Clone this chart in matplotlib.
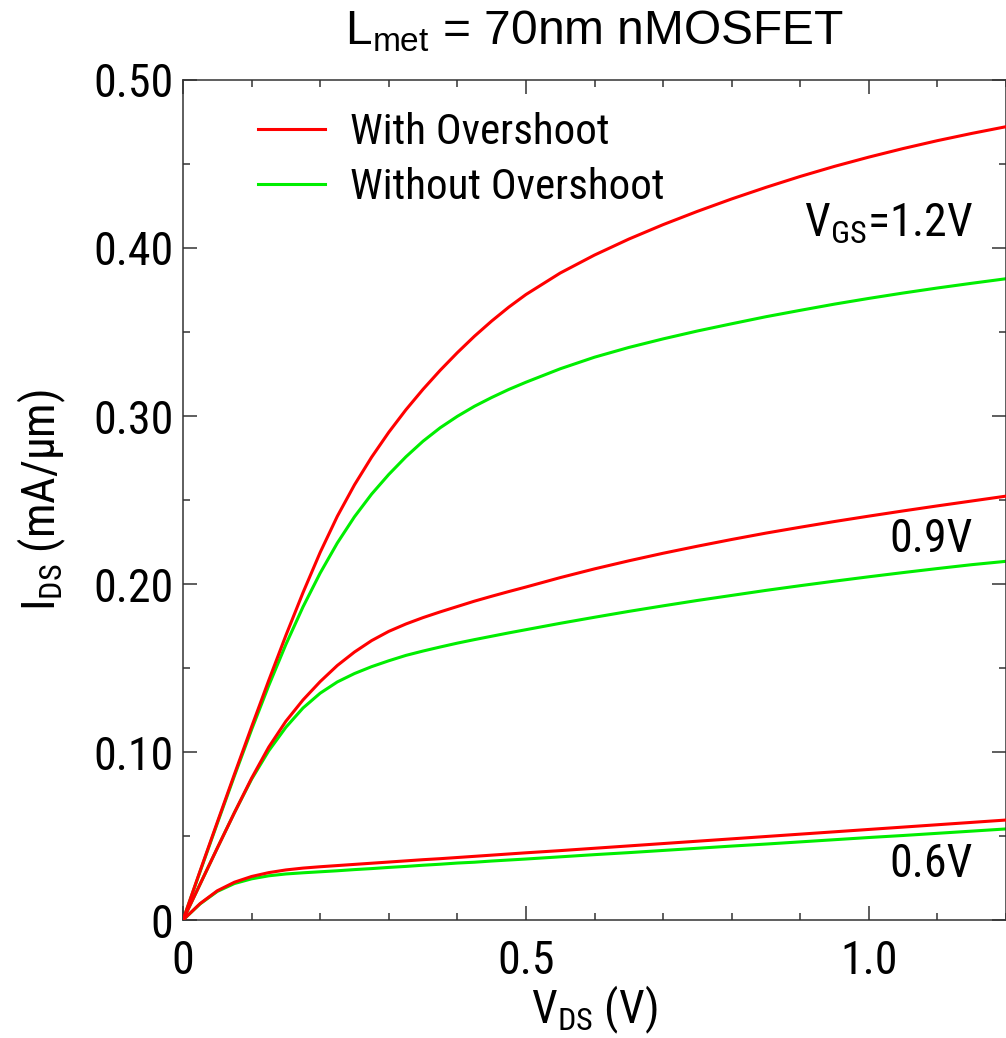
import os
import matplotlib
matplotlib.use("Agg")
import matplotlib.pyplot as plt
from matplotlib import font_manager
from matplotlib.ticker import MultipleLocator

# ---------------- data ----------------
vds = [0, 0.025, 0.05, 0.075, 0.1, 0.125, 0.15, 0.175, 0.2, 0.225, 0.25, 0.275,
       0.3, 0.325, 0.35, 0.375, 0.4, 0.425, 0.45, 0.475, 0.5, 0.55, 0.6, 0.65,
       0.7, 0.75, 0.8, 0.85, 0.9, 0.95, 1.0, 1.05, 1.1, 1.15, 1.2]

ids_12_with = [0, 0.0293, 0.0582, 0.0868, 0.1150, 0.1426, 0.1694, 0.1949, 0.2188,
               0.2403, 0.2590, 0.2755, 0.2903, 0.3037, 0.3159, 0.3272, 0.3377,
               0.3475, 0.3565, 0.3648, 0.3723, 0.3851, 0.3958, 0.4053, 0.4139,
               0.4218, 0.4292, 0.4361, 0.4426, 0.4486, 0.4541, 0.4592, 0.4639,
               0.4682, 0.4722]
ids_12_without = [0, 0.0289, 0.0575, 0.0858, 0.1133, 0.1395, 0.1640, 0.1864, 0.2065,
                  0.2244, 0.2400, 0.2535, 0.2652, 0.2757, 0.2850, 0.2930, 0.2998,
                  0.3058, 0.3110, 0.3158, 0.3201, 0.3281, 0.3350, 0.3408, 0.3459,
                  0.3506, 0.3549, 0.3591, 0.3629, 0.3666, 0.3700, 0.3732, 0.3762,
                  0.3790, 0.3817]
ids_09_with = [0, 0.0214, 0.0428, 0.0639, 0.0844, 0.1029, 0.1183, 0.1310, 0.1419,
               0.1515, 0.1595, 0.1663, 0.1718, 0.1762, 0.1800, 0.1834, 0.1866,
               0.1898, 0.1927, 0.1955, 0.1982, 0.2038, 0.2090, 0.2138, 0.2183,
               0.2225, 0.2265, 0.2303, 0.2338, 0.2372, 0.2404, 0.2435, 0.2465,
               0.2494, 0.2523]
ids_09_without = [0, 0.0214, 0.0428, 0.0639, 0.0838, 0.1007, 0.1147, 0.1262, 0.1350,
                  0.1417, 0.1467, 0.1508, 0.1543, 0.1575, 0.1601, 0.1625, 0.1648,
                  0.1669, 0.1689, 0.1709, 0.1728, 0.1766, 0.1802, 0.1837, 0.1870,
                  0.1902, 0.1932, 0.1962, 0.1990, 0.2017, 0.2043, 0.2068, 0.2092,
                  0.2115, 0.2135]
ids_06_with = [0, 0.0098, 0.0174, 0.0225, 0.0259, 0.0282, 0.0298, 0.0309, 0.0317,
               0.0324, 0.0331, 0.0338, 0.0345, 0.0352, 0.0359, 0.0365, 0.0372,
               0.0379, 0.0386, 0.0393, 0.0400, 0.0413, 0.0427, 0.0441, 0.0455,
               0.0469, 0.0483, 0.0497, 0.0511, 0.0525, 0.0539, 0.0553, 0.0567,
               0.0581, 0.0595]
ids_06_without = [0, 0.0096, 0.0170, 0.0217, 0.0245, 0.0263, 0.0274, 0.0281, 0.0287,
                  0.0293, 0.0300, 0.0306, 0.0313, 0.0319, 0.0326, 0.0332, 0.0339,
                  0.0344, 0.0351, 0.0357, 0.0363, 0.0376, 0.0389, 0.0401, 0.0414,
                  0.0427, 0.0440, 0.0452, 0.0465, 0.0478, 0.0491, 0.0503, 0.0516,
                  0.0529, 0.0542]

series_labels = ["With Overshoot", "Without Overshoot"]
vgs_labels = [r"V$_{\mathregular{GS}}$=1.2V", "0.9V", "0.6V"]
xtick_vals = [0, 0.5, 1.0]
xtick_labels = ["0", "0.5", "1.0"]
ytick_vals = [0, 0.1, 0.2, 0.3, 0.4, 0.5]
ytick_labels = ["0", "0.10", "0.20", "0.30", "0.40", "0.50"]

# ---------------- fonts: prefer a narrow Arial-like face ----------------
prefs = ["liberationsansnarrow-regular", "arialn", "robotocondensed-regular",
         "robotocondensed_regular", "opensans_condensed-regular",
         "opensans-condensedregular", "notosans-condensed.", "notosans-condensedregular",
         "dejavusanscondensed."]
chosen = None
files = [(os.path.basename(f.fname).lower(), f) for f in font_manager.fontManager.ttflist]
for p in prefs:
    for fn, f in files:
        if fn.startswith(p) and "bold" not in fn and "italic" not in fn:
            chosen = f
            break
    if chosen:
        break

if chosen is not None:
    fam = chosen.name
    stretch = chosen.stretch
else:
    fam = "Liberation Sans"
    stretch = "normal"
plt.rcParams["font.family"] = [fam, "DejaVu Sans"]
plt.rcParams["font.stretch"] = stretch
plt.rcParams["mathtext.fontset"] = "custom"
spec = fam if stretch in ("normal", 500) else f"{fam}:stretch={stretch}"
plt.rcParams["mathtext.rm"] = spec
plt.rcParams["mathtext.it"] = spec
plt.rcParams["mathtext.default"] = "regular"

FS = 33 if chosen is not None else 30
LEG_FS = 31 if chosen is not None else 29
RED = "#ff0000"
GREEN = "#00ee00"
LW = 2.2

fig = plt.figure(figsize=(10.06, 10.38), dpi=100)
ax = fig.add_axes([183 / 1006, (1038 - 920) / 1038, 823 / 1006, 840 / 1038])

l1, = ax.plot(vds, ids_12_with, color=RED, lw=LW, zorder=3)
l2, = ax.plot(vds, ids_12_without, color=GREEN, lw=LW, zorder=2)
ax.plot(vds, ids_09_with, color=RED, lw=LW, zorder=3)
ax.plot(vds, ids_09_without, color=GREEN, lw=LW, zorder=2)
ax.plot(vds, ids_06_with, color=RED, lw=LW, zorder=3)
ax.plot(vds, ids_06_without, color=GREEN, lw=LW, zorder=2)

ax.set_xlim(0, 1.2)
ax.set_ylim(0, 0.5)
ax.set_xticks(xtick_vals)
ax.set_xticklabels(xtick_labels)
ax.set_yticks(ytick_vals)
ax.set_yticklabels(ytick_labels)
ax.xaxis.set_minor_locator(MultipleLocator(0.1))
ax.yaxis.set_minor_locator(MultipleLocator(0.05))
ax.tick_params(which="both", direction="in", top=True, right=True,
               color="#333333", width=1.1, labelsize=FS)
ax.tick_params(which="major", length=10)
ax.tick_params(which="minor", length=5)
ax.tick_params(axis="x", which="major", pad=14)
ax.tick_params(axis="y", which="major", pad=7)
for s in ax.spines.values():
    s.set_color("#333333")
    s.set_linewidth(1.1)

ax.set_xlabel(r"V$_{\mathregular{DS}}$ (V)", fontsize=FS, labelpad=0)
ax.set_ylabel(r"I$_{\mathregular{DS}}$ (mA/$\mathregular{\mu}$m)", fontsize=FS, labelpad=18)
ax.set_title(r"L$_{\mathregular{met}}$ = 70nm nMOSFET", fontsize=34.5, pad=26,
             family=["Liberation Sans", "DejaVu Sans"], fontstretch="normal")

leg = ax.legend([l1, l2], series_labels, loc="upper left",
                bbox_to_anchor=(0.07, 0.982), frameon=False, fontsize=LEG_FS,
                handlelength=1.55, handletextpad=0.6, labelspacing=0.32,
                borderaxespad=0)

ax.text(1.152, 0.4067, vgs_labels[0], fontsize=FS, ha="right", va="baseline")
ax.text(1.152, 0.219, vgs_labels[1], fontsize=FS, ha="right", va="baseline")
ax.text(1.152, 0.0256, vgs_labels[2], fontsize=FS, ha="right", va="baseline")

fig.savefig("out.png", dpi=100)
